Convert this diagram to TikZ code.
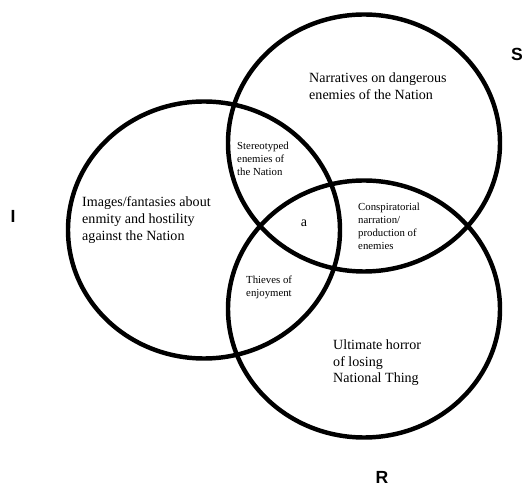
\documentclass[tikz,border=0pt]{standalone}
\usepackage{fontspec}
\setmainfont{Liberation Serif}
\newfontfamily\labelfont{Liberation Sans}
\usepackage{tikz}
\usetikzlibrary{positioning}

\tikzset{
  ring/.style={line width=3.8pt},
  bigtext/.style={anchor=west,align=left,inner sep=0pt,font=\fontsize{12}{14.2}\selectfont},
  smalltext/.style={anchor=west,align=left,inner sep=0pt,font=\fontsize{9.2}{11}\selectfont},
  reglabel/.style={inner sep=0pt,font=\labelfont\bfseries\fontsize{15}{15}\selectfont}
}

\begin{document}
\begin{tikzpicture}[x=0.03cm,y=-0.03cm]
  \useasboundingbox (0,0) rectangle (523,486);
  % the three rings
  \draw[ring] (364,143) ellipse [x radius=136,y radius=128.5];
  \draw[ring] (204,230) ellipse [x radius=136,y radius=128.5];
  \draw[ring] (364,309) ellipse [x radius=136,y radius=128.5];
  % ring labels
  \node[reglabel] (symb) at (517,54) {S};
  \node[reglabel] (imag) at (13,216) {I};
  \node[reglabel] (real) at (382,477) {R};
  % single regions
  \node[bigtext] (narr) at (309,86) {Narratives on dangerous\\enemies of the Nation};
  \node[bigtext] (imgs) at (82,220) {Images/fantasies about\\enmity and hostility\\against the Nation};
  \node[bigtext] (horr) at (333,363) {Ultimate horror\\of losing\\National Thing};
  % overlaps
  \node[smalltext] (ster) at (237,159) {Stereotyped\\enemies of\\the Nation};
  \node[smalltext] (cons) at (358,226.5) {Conspiratorial\\narration/\\production of\\enemies};
  \node[smalltext] (thie) at (246,287.5) {Thieves of\\enjoyment};
  \node[font=\fontsize{12}{14}\selectfont,inner sep=0pt] (objA) at (304,223) {a};
\end{tikzpicture}
\end{document}
